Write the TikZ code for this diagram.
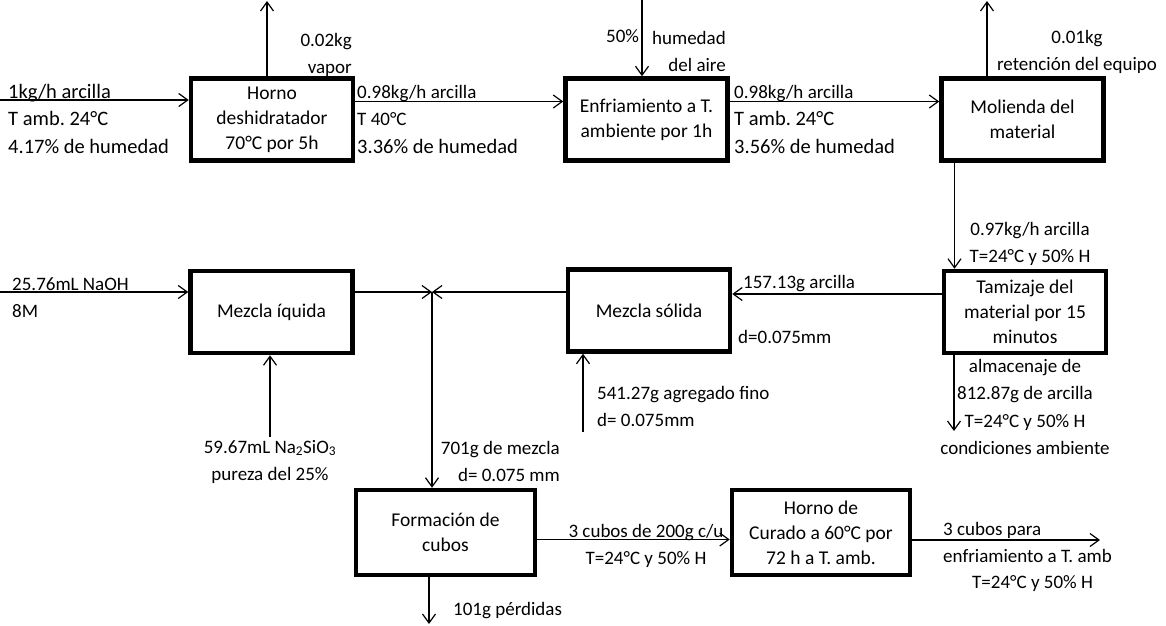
\documentclass[tikz,border=0pt]{standalone}
\usepackage{fontspec}
\setmainfont{Carlito}
\usetikzlibrary{arrows.meta}
\frenchspacing
\newcommand\boxfont{\fontsize{19.5}{25}\selectfont}
\newcommand\lblfont{\fontsize{19}{27.5}\selectfont}
\newcommand\lblbig{\fontsize{20.5}{27.5}\selectfont}

\begin{document}
\begin{tikzpicture}[x=1pt, y=-1pt,
  proc/.style={draw, line width=4.5pt, minimum width=162pt, minimum height=82pt, align=center, font=\boxfont},
  lbl/.style={inner sep=0pt, font=\lblfont, execute at begin node=\strut},
  >={Straight Barb[length=9pt, width=13pt]}]
\useasboundingbox (0,0) rectangle (1166,625);
\node[proc] (hor) at (272,119.5) {Horno\\deshidratador\\70°C por 5h};
\node[proc] (enf) at (646.5,119.5) {Enfriamiento a T.\\ambiente por 1h};
\node[proc] (mol) at (1022.5,119.5) {Molienda del\\material};
\node[proc] (liq) at (271.5,312) {Mezcla íquida};
\node[proc] (sol) at (649,310.5) {Mezcla sólida};
\node[proc] (tam) at (1025,312) {Tamizaje del\\material por 15\\minutos};
\node[proc, minimum width=179pt, minimum height=85pt] (form) at (445.5,532.5) {Formación de\\cubos};
\node[proc, minimum width=178pt, minimum height=85pt] (cur) at (821,532.5) {Horno de\\Curado a 60°C por\\72 h a T. amb.};
\coordinate (in1) at (0,100);
\coordinate (vap) at (267,1);
\coordinate (aire) at (642,0);
\coordinate (ret) at (987,1);
\coordinate (jun) at (432,292);
\coordinate (naoh) at (0,292);
\coordinate (sil) at (270,437);
\coordinate (agr) at (583,432);
\coordinate (alm) at (954,431);
\coordinate (perd) at (429,624);
\coordinate (sal) at (1100,540);
  \path[->, line width=1.2pt]
  (in1) edge (in1 -| hor.west)
  (vap |- hor.north) edge (vap)
  (aire) edge (aire |- enf.north)
  (ret |- mol.north) edge (ret)
  ([yshift=18pt]hor.east) edge ([yshift=18pt]enf.west)
  ([yshift=18pt]enf.east) edge ([yshift=18pt]mol.west)
  ([xshift=-68pt]mol.south) edge ([xshift=-68pt]mol.south |- tam.north)
  ([yshift=18pt]tam.west) edge ([yshift=18pt]tam.west -| sol.east)
  (jun -| sol.west) edge (jun)
  (jun -| liq.east) edge (jun)
  (jun) edge (jun |- form.north)
  (naoh) edge (naoh -| liq.west)
  (sil) edge (sil |- liq.south)
  (agr) edge (agr |- sol.south)
  (alm |- tam.south) edge (alm)
  (perd |- form.south) edge (perd)
  ([yshift=-7pt]form.east) edge ([yshift=-7pt]cur.west)
  (sal -| cur.east) edge (sal)
  ;
\node[lbl, anchor=north west, align=left] (fin) at (8,84) {{\lblbig 1kg/h arcilla}\\{\lblbig T amb. 24°C}\\{\lblbig 4.17\% de humedad}};
\node[lbl, anchor=north east, align=right] (fvap) at (352,33) {0.02kg\\vapor};
\node[lbl, anchor=north west, align=left] (fhor) at (357,85) {0.98kg/h arcilla\\T 40°C\\{\lblbig 3.36\% de humedad}};
\node[lbl, anchor=north west] (fpct) at (606,23) {50\%};
\node[lbl, anchor=north east, align=right] (faire) at (726,31) {humedad\\del aire};
\node[lbl, anchor=north west, align=left] (fenf) at (734,85) {0.98kg/h arcilla\\{\lblbig T amb. 24°C}\\{\lblbig 3.56\% de humedad}};
\node[lbl, anchor=north, align=center] (fret) at (1077,30) {0.01kg\\retención del equipo};
\node[lbl, anchor=north, align=center] (fmol) at (1030,222) {0.97kg/h arcilla\\T=24°C y 50\% H};
\node[lbl, anchor=north west] (ftam) at (743,269) {157.13g arcilla};
\node[lbl, anchor=north west] (fdia) at (738,324) {d=0.075mm};
\node[lbl, anchor=north, align=center] (falm) at (1025,359) {almacenaje de\\812.87g de arcilla\\T=24°C y 50\% H\\condiciones ambiente};
\node[lbl, anchor=north west, align=left] (fnaoh) at (12,277) {25.76mL NaOH\\8M};
\node[lbl, anchor=north, align=center] (fsil) at (270,440) {59.67mL Na\textsubscript{2}SiO\textsubscript{3}\\pureza del 25\%};
\node[lbl, anchor=north west, align=left] (fagr) at (597,386) {541.27g agregado fino\\d= 0.075mm};
\node[lbl, anchor=north east, align=right] (fmez) at (560,441) {701g de mezcla\\d= 0.075 mm};
\node[lbl, anchor=north, align=center] (fcub) at (646,524) {3 cubos de 200g c/u\\T=24°C y 50\% H};
\node[lbl, anchor=north west] (fper) at (453,596) {101g pérdidas};
\node[lbl, anchor=north west, align=left] (fsal) at (943,522) {3 cubos para\\enfriamiento a T. amb};
\node[lbl, anchor=north west] (fsalt) at (972,569) {T=24°C y 50\% H};
\end{tikzpicture}
\end{document}
